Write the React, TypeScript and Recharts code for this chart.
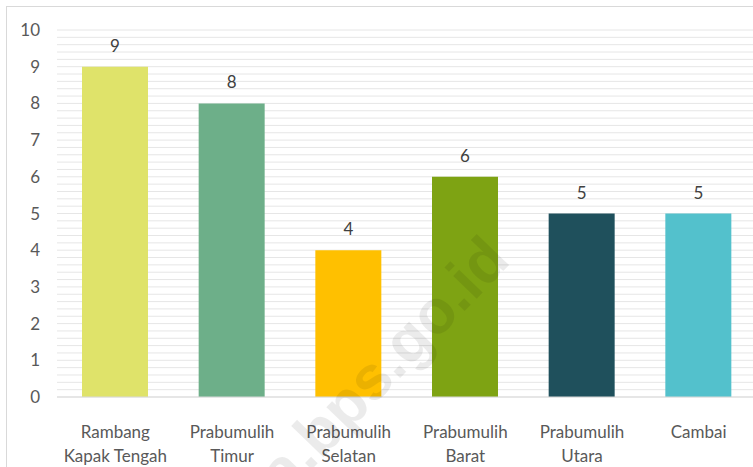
import { BarChart, Bar, XAxis, YAxis, CartesianGrid, Cell, LabelList } from 'recharts';

const districts = [
  'Rambang\nKapak Tengah',
  'Prabumulih\nTimur',
  'Prabumulih\nSelatan',
  'Prabumulih\nBarat',
  'Prabumulih\nUtara',
  'Cambai',
];
const counts = [9, 8, 4, 6, 5, 5];
const barColors = ['#dfe36a', '#6daf89', '#ffc000', '#7ea313', '#1f505c', '#53c1cc'];
const majorTicks = [0, 1, 2, 3, 4, 5, 6, 7, 8, 9, 10];
const minorTicks = [
  0, 0.2, 0.4, 0.6, 0.8, 1, 1.2, 1.4, 1.6, 1.8, 2, 2.2, 2.4, 2.6, 2.8, 3, 3.2, 3.4, 3.6, 3.8,
  4, 4.2, 4.4, 4.6, 4.8, 5, 5.2, 5.4, 5.6, 5.8, 6, 6.2, 6.4, 6.6, 6.8, 7, 7.2, 7.4, 7.6, 7.8,
  8, 8.2, 8.4, 8.6, 8.8, 9, 9.2, 9.4, 9.6, 9.8, 10,
];

const data = districts.map((name, i) => ({ name, count: counts[i] }));

const FONT = 'Lato, "Open Sans", sans-serif';
const Y_MAX = 10;

function CategoryTick({ x, y, payload }: any) {
  const lines = String(payload.value).split('\n');
  return (
    <text x={x} y={y} textAnchor="middle" fill="#595959" fontSize={17} fontFamily={FONT}>
      {lines.map((line, i) => (
        <tspan key={i} x={x} dy={i === 0 ? 33 : 24}>
          {line}
        </tspan>
      ))}
    </text>
  );
}

// minor grid every 0.2, mapped through the y scale when available
const minorGrid = ({ yAxis, offset }: any) => {
  if (yAxis && typeof yAxis.scale === 'function') {
    return minorTicks.map((t) => yAxis.scale(t));
  }
  return minorTicks.map((t) => offset.top + offset.height * (1 - t / Y_MAX));
};

export default function App() {
  return (
    <div style={{ position: 'absolute', left: 0, top: 0, width: 753, height: 467, overflow: 'hidden', background: '#fff' }}>
      <div
        style={{
          position: 'absolute',
          left: 6,
          top: 6,
          width: 800,
          height: 500,
          border: '1px solid #d9d9d9',
        }}
      />
      <div style={{ position: 'absolute', left: 0, top: 0 }}>
        <BarChart width={770} height={467} data={data} margin={{ top: 30, right: 13, left: 0, bottom: 0 }}>
          <CartesianGrid
            vertical={false}
            stroke="#e6e6e6"
            horizontalCoordinatesGenerator={minorGrid}
          />
          <XAxis
            dataKey="name"
            height={70}
            interval={0}
            tickLine={false}
            axisLine={{ stroke: '#d9d9d9' }}
            tick={<CategoryTick />}
          />
          <YAxis
            width={57}
            domain={[0, Y_MAX]}
            ticks={majorTicks}
            tickLine={false}
            axisLine={false}
            tickSize={0}
            tickMargin={17}
            tick={{ fill: '#595959', fontSize: 17, fontFamily: FONT }}
          />
          <Bar dataKey="count" barSize={66} isAnimationActive={false}>
            {data.map((entry, index) => (
              <Cell key={`cell-${index}`} fill={barColors[index]} />
            ))}
            <LabelList dataKey="count" position="top" offset={15} fill="#404040" fontSize={17} fontFamily={FONT} />
          </Bar>
        </BarChart>
      </div>
      <svg width={753} height={467} style={{ position: 'absolute', left: 0, top: 0, pointerEvents: 'none' }}>
        <text
          x={512}
          y={262}
          textAnchor="end"
          transform="rotate(-46 512 262)"
          fontSize={62}
          fontWeight="bold"
          fontFamily='"Liberation Sans", sans-serif'
          fill="#000"
          fillOpacity={0.08}
        >
          kota.bps.go.id
        </text>
      </svg>
    </div>
  );
}
